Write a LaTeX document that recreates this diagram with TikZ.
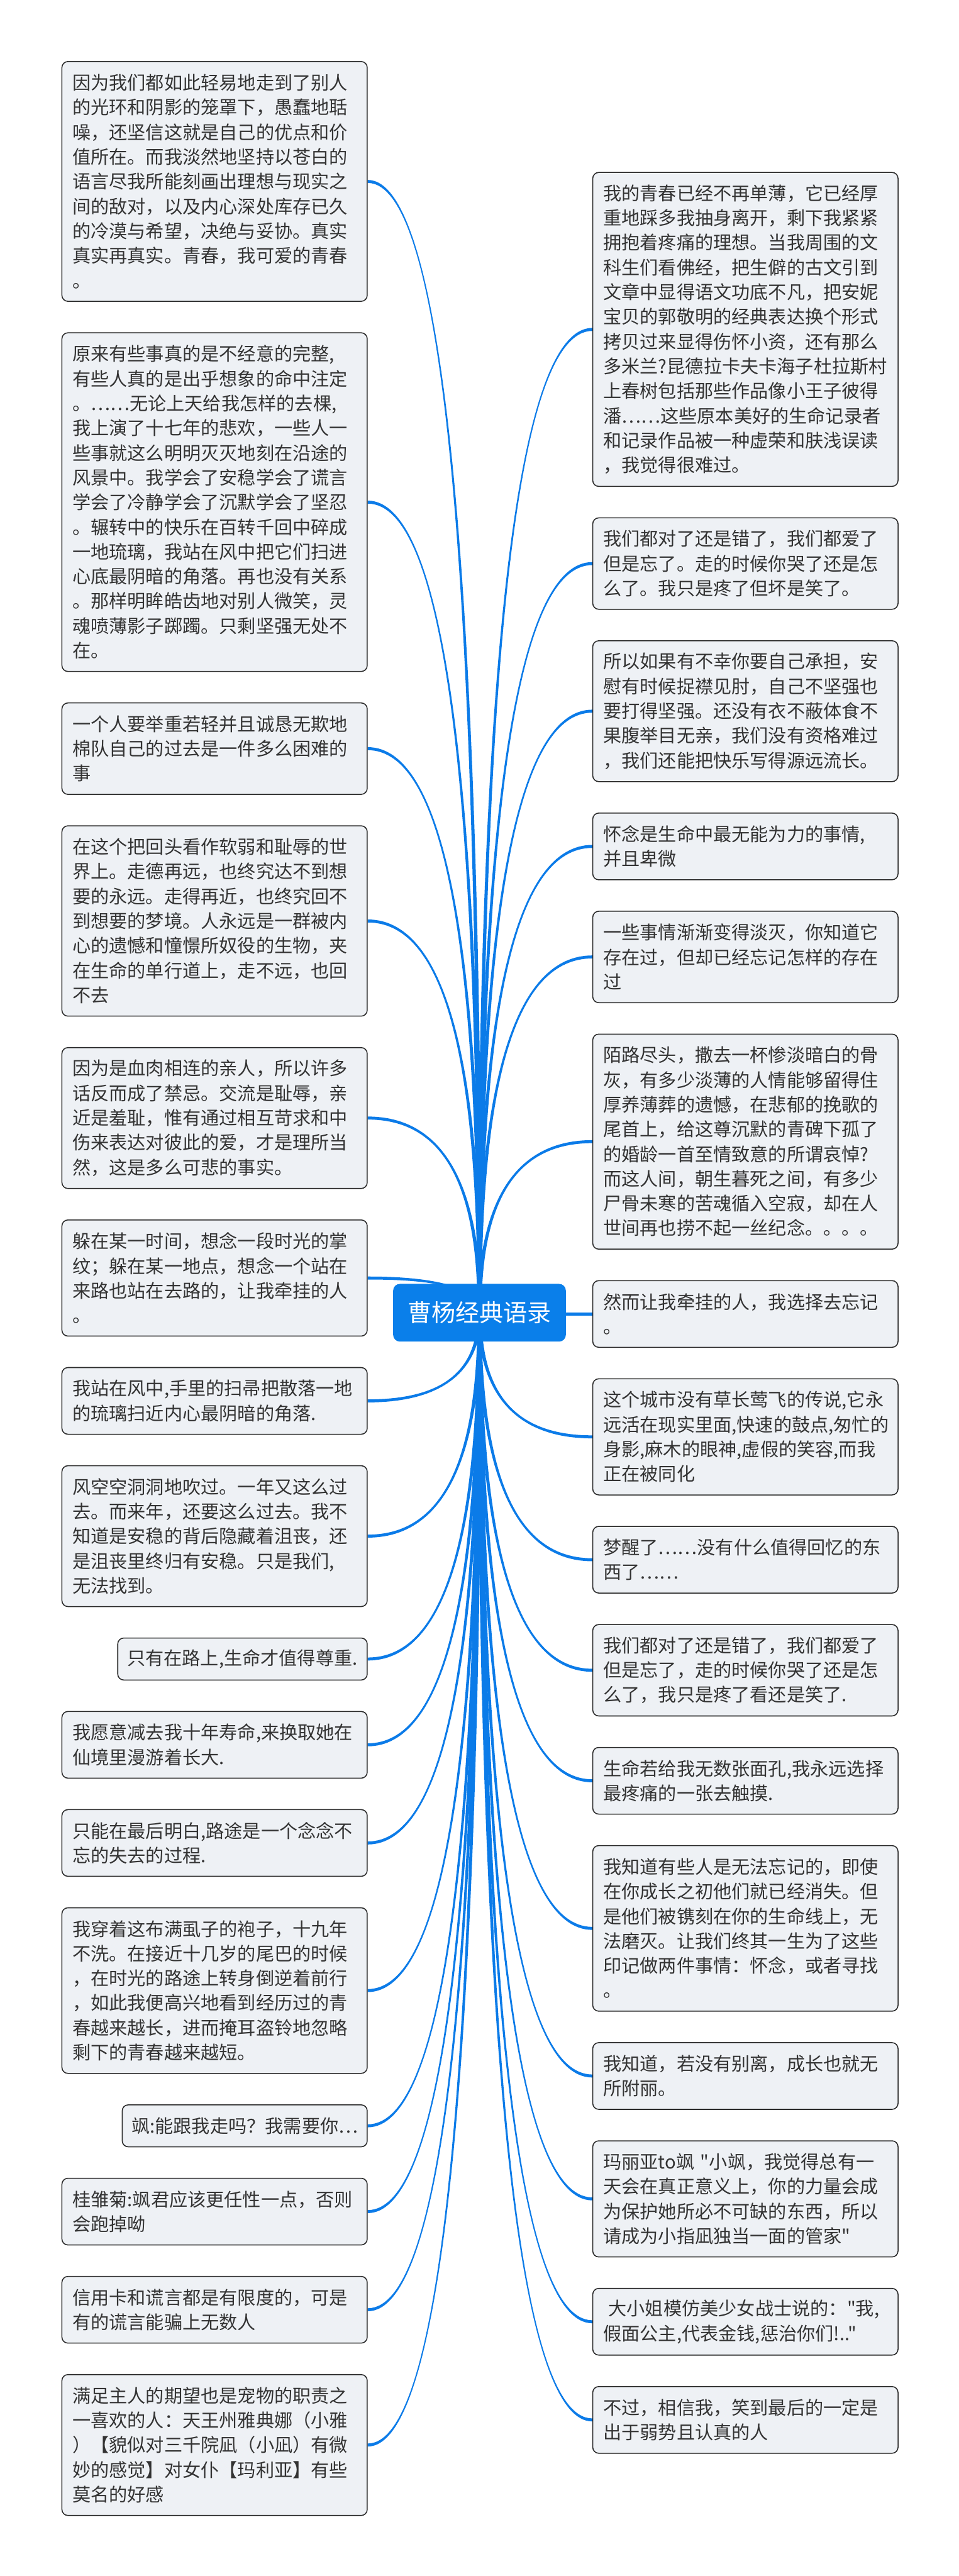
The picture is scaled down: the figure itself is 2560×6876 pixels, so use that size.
\documentclass[tikz,border=0pt]{standalone}
\usepackage{fontspec}
\newfontfamily\cjk{Noto Sans CJK SC}
\usetikzlibrary{calc,backgrounds}
\definecolor{branchcol}{HTML}{0B7BE8}
\definecolor{rootcol}{HTML}{0A7FEA}
\definecolor{boxfill}{HTML}{EEF1F5}
\definecolor{boxline}{HTML}{2A2A2A}
\definecolor{txt}{HTML}{333333}
\def\ra{5.5pt}\def\rb{4pt}\def\rf{0.8}
\newcommand\branch[2]{%
  \fill[branchcol] let \p0=(root.center), \p1=(#1) in
   (\x0+\ra,\y0)
   .. controls (\x0+\rf*\ra, {\y0+(\y1-\y0)*2/3}) and ({\x1+(\x0-\x1)*2/3}, {\y1+(#2)*\rb}) ..
   (\x1,{\y1+(#2)*\rb})
   -- (\x1,{\y1-(#2)*\rb})
   .. controls ({\x1+(\x0-\x1)*2/3}, {\y1-(#2)*\rb}) and (\x0-\rf*\ra, {\y0+(\y1-\y0)*2/3}) ..
   (\x0-\ra,\y0) -- cycle;}
\begin{document}
\begin{tikzpicture}[x=1pt,y=-1pt,
 qbox/.style={draw=boxline, line width=2.6pt, fill=boxfill, rounded corners=16pt, anchor=north west,
   inner xsep=28pt, inner ysep=0pt, align=left, text=txt, font=\cjk\fontsize{49}{66}\selectfont, text width=759pt},
 rootbox/.style={fill=rootcol, text=white, rounded corners=18pt, minimum width=461pt, minimum height=154pt,
   inner sep=0pt, font=\cjk\fontsize{64}{70}\selectfont}]
\useasboundingbox (0,0) rectangle (2560,6876);

\node[rootbox] (root) at (1280,3504) {曹杨经典语录};

% left column
\node[qbox, minimum height=640pt] (L1) at (164,163) {因为我们都如此轻易地走到了别人\\的光环和阴影的笼罩下，愚蠢地聒\\噪，还坚信这就是自己的优点和价\\值所在。而我淡然地坚持以苍白的\\语言尽我所能刻画出理想与现实之\\间的敌对，以及内心深处库存已久\\的冷漠与希望，决绝与妥协。真实\\真实再真实。青春，我可爱的青春\\。};
\node[qbox, minimum height=904pt] (L2) at (164,887) {原来有些事真的是不经意的完整,\\有些人真的是出乎想象的命中注定\\。……无论上天给我怎样的去棵,\\我上演了十七年的悲欢，一些人一\\些事就这么明明灭灭地刻在沿途的\\风景中。我学会了安稳学会了谎言\\学会了冷静学会了沉默学会了坚忍\\。辗转中的快乐在百转千回中碎成\\一地琉璃，我站在风中把它们扫进\\心底最阴暗的角落。再也没有关系\\。那样明眸皓齿地对别人微笑，灵\\魂喷薄影子踯躅。只剩坚强无处不\\在。};
\node[qbox, minimum height=244pt] (L3) at (164,1875) {一个人要举重若轻并且诚恳无欺地\\棉队自己的过去是一件多么困难的\\事};
\node[qbox, minimum height=508pt] (L4) at (164,2203) {在这个把回头看作软弱和耻辱的世\\界上。走德再远，也终究达不到想\\要的永远。走得再近，也终究回不\\到想要的梦境。人永远是一群被内\\心的遗憾和憧憬所奴役的生物，夹\\在生命的单行道上，走不远，也回\\不去};
\node[qbox, minimum height=376pt] (L5) at (164,2795) {因为是血肉相连的亲人，所以许多\\话反而成了禁忌。交流是耻辱，亲\\近是羞耻，惟有通过相互苛求和中\\伤来表达对彼此的爱，才是理所当\\然，这是多么可悲的事实。};
\node[qbox, minimum height=310pt] (L6) at (164,3255) {躲在某一时间，想念一段时光的掌\\纹；躲在某一地点，想念一个站在\\来路也站在去路的，让我牵挂的人\\。};
\node[qbox, minimum height=178pt] (L7) at (164,3649) {我站在风中,手里的扫帚把散落一地\\的琉璃扫近内心最阴暗的角落.};
\node[qbox, minimum height=376pt] (L8) at (164,3911) {风空空洞洞地吹过。一年又这么过\\去。而来年，还要这么过去。我不\\知道是安稳的背后隐藏着沮丧，还\\是沮丧里终归有安稳。只是我们,\\无法找到。};
\node[qbox, minimum height=112pt, inner xsep=25pt, text width=616pt] (L9) at (313,4371) {只有在路上,生命才值得尊重.};
\node[qbox, minimum height=178pt] (L10) at (164,4567) {我愿意减去我十年寿命,来换取她在\\仙境里漫游着长大.};
\node[qbox, minimum height=178pt] (L11) at (164,4829) {只能在最后明白,路途是一个念念不\\忘的失去的过程.};
\node[qbox, minimum height=442pt] (L12) at (164,5091) {我穿着这布满虱子的袍子，十九年\\不洗。在接近十几岁的尾巴的时候\\，在时光的路途上转身倒逆着前行\\，如此我便高兴地看到经历过的青\\春越来越长，进而掩耳盗铃地忽略\\剩下的青春越来越短。};
\node[qbox, minimum height=112pt, inner xsep=25pt, text width=604pt] (L13) at (325,5617) {飒:能跟我走吗？我需要你…};
\node[qbox, minimum height=178pt] (L14) at (164,5813) {桂雏菊:飒君应该更任性一点，否则\\会跑掉呦};
\node[qbox, minimum height=178pt] (L15) at (164,6075) {信用卡和谎言都是有限度的，可是\\有的谎言能骗上无数人};
\node[qbox, minimum height=376pt] (L16) at (164,6337) {满足主人的期望也是宠物的职责之\\一喜欢的人：天王州雅典娜（小雅\\）【貌似对三千院凪（小凪）有微\\妙的感觉】对女仆【玛利亚】有些\\莫名的好感};

% right column
\node[qbox, minimum height=838pt] (R1) at (1581,459) {我的青春已经不再单薄，它已经厚\\重地踩多我抽身离开，剩下我紧紧\\拥抱着疼痛的理想。当我周围的文\\科生们看佛经，把生僻的古文引到\\文章中显得语文功底不凡，把安妮\\宝贝的郭敬明的经典表达换个形式\\拷贝过来显得伤怀小资，还有那么\\多米兰?昆德拉卡夫卡海子杜拉斯村\\上春树包括那些作品像小王子彼得\\潘……这些原本美好的生命记录者\\和记录作品被一种虚荣和肤浅误读\\，我觉得很难过。};
\node[qbox, minimum height=244pt] (R2) at (1581,1381) {我们都对了还是错了，我们都爱了\\但是忘了。走的时候你哭了还是怎\\么了。我只是疼了但坏是笑了。};
\node[qbox, minimum height=376pt] (R3) at (1581,1709) {所以如果有不幸你要自己承担，安\\慰有时候捉襟见肘，自己不坚强也\\要打得坚强。还没有衣不蔽体食不\\果腹举目无亲，我们没有资格难过\\，我们还能把快乐写得源远流长。};
\node[qbox, minimum height=178pt] (R4) at (1581,2169) {怀念是生命中最无能为力的事情,\\并且卑微};
\node[qbox, minimum height=244pt] (R5) at (1581,2431) {一些事情渐渐变得淡灭，你知道它\\存在过，但却已经忘记怎样的存在\\过};
\node[qbox, minimum height=574pt] (R6) at (1581,2759) {陌路尽头，撒去一杯惨淡暗白的骨\\灰，有多少淡薄的人情能够留得住\\厚养薄葬的遗憾，在悲郁的挽歌的\\尾首上，给这尊沉默的青碑下孤了\\的婚龄一首至情致意的所谓哀悼?\\而这人间，朝生暮死之间，有多少\\尸骨未寒的苦魂循入空寂，却在人\\世间再也捞不起一丝纪念。。。。};
\node[qbox, minimum height=178pt] (R7) at (1581,3417) {然而让我牵挂的人，我选择去忘记\\。};
\node[qbox, minimum height=310pt] (R8) at (1581,3679) {这个城市没有草长莺飞的传说,它永\\远活在现实里面,快速的鼓点,匆忙的\\身影,麻木的眼神,虚假的笑容,而我\\正在被同化};
\node[qbox, minimum height=178pt] (R9) at (1581,4073) {梦醒了……没有什么值得回忆的东\\西了……};
\node[qbox, minimum height=244pt] (R10) at (1581,4335) {我们都对了还是错了，我们都爱了\\但是忘了，走的时候你哭了还是怎\\么了，我只是疼了看还是笑了.};
\node[qbox, minimum height=178pt] (R11) at (1581,4663) {生命若给我无数张面孔,我永远选择\\最疼痛的一张去触摸.};
\node[qbox, minimum height=442pt] (R12) at (1581,4925) {我知道有些人是无法忘记的，即使\\在你成长之初他们就已经消失。但\\是他们被镌刻在你的生命线上，无\\法磨灭。让我们终其一生为了这些\\印记做两件事情：怀念，或者寻找\\。};
\node[qbox, minimum height=178pt] (R13) at (1581,5451) {我知道，若没有别离，成长也就无\\所附丽。};
\node[qbox, minimum height=310pt] (R14) at (1581,5713) {玛丽亚to飒~"小飒，我觉得总有一\\天会在真正意义上，你的力量会成\\为保护她所必不可缺的东西，所以\\请成为小指凪独当一面的管家"};
\node[qbox, minimum height=178pt] (R15) at (1581,6107) {\hspace*{14pt}大小姐模仿美少女战士说的："我,\\假面公主,代表金钱,惩治你们!.."};
\node[qbox, minimum height=178pt] (R16) at (1581,6369) {不过，相信我，笑到最后的一定是\\出于弱势且认真的人};

\begin{pgfonlayer}{background}
\fill[white] (0,0) rectangle (2560,6876);
\foreach \bx in {L1,L2,L3,L4,L5,L6} {\branch{\bx.east}{1}}
\foreach \bx in {L7,L8,L9,L10,L11,L12,L13,L14,L15,L16} {\branch{\bx.east}{-1}}
\foreach \bx in {R1,R2,R3,R4,R5,R6} {\branch{\bx.west}{-1}}
\foreach \bx in {R8,R9,R10,R11,R12,R13,R14,R15,R16} {\branch{\bx.west}{1}}
\draw[branchcol, line width=8pt] (root.center |- R7.west) -- (R7.west);
\end{pgfonlayer}
\end{tikzpicture}
\end{document}
